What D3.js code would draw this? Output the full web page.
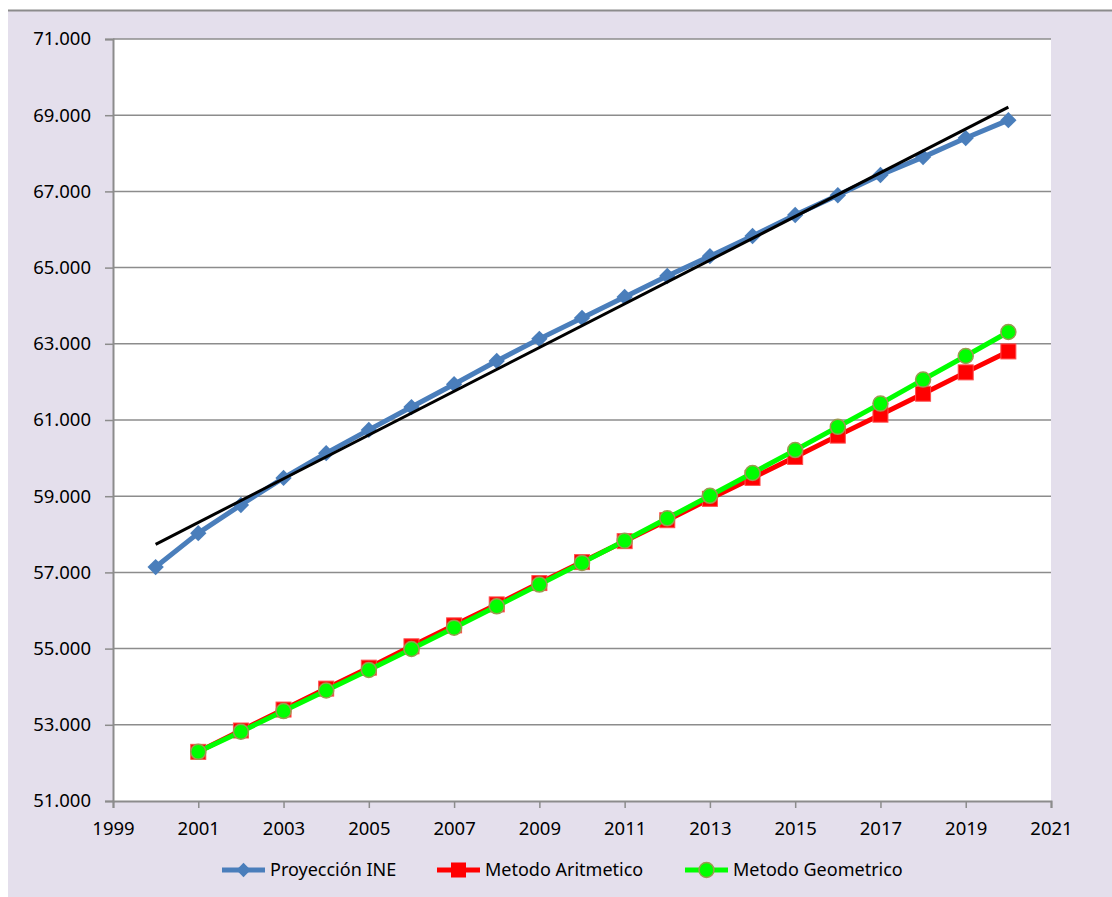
<!DOCTYPE html>
<html>
<head>
<meta charset="utf-8">
<script src="https://cdn.jsdelivr.net/npm/d3@7"></script>
<style>
  body { margin: 0; background: #fff; }
  svg text { font-family: "Noto Sans", "Open Sans", sans-serif; fill: #000; }
</style>
</head>
<body>
<div class="chart"></div>
<script>
// values (thousands)
var years = [2000, 2001, 2002, 2003, 2004, 2005, 2006, 2007, 2008, 2009, 2010,
             2011, 2012, 2013, 2014, 2015, 2016, 2017, 2018, 2019, 2020]
var ine = [57.14, 58.03, 58.77, 59.48, 60.13, 60.74, 61.34, 61.94, 62.55, 63.13, 63.68,
           64.23, 64.78, 65.30, 65.83, 66.38, 66.90, 67.43, 67.90, 68.40, 68.87]
var metYears = years.slice(1)
var aritmetico = [52.29, 52.85, 53.40, 53.95, 54.50, 55.06, 55.61, 56.16, 56.72, 57.27,
                  57.82, 58.37, 58.93, 59.48, 60.03, 60.59, 61.14, 61.69, 62.25, 62.80]
var geometrico = [52.29, 52.82, 53.36, 53.90, 54.44, 54.99, 55.55, 56.11, 56.68, 57.25,
                  57.83, 58.42, 59.01, 59.61, 60.21, 60.82, 61.43, 62.06, 62.68, 63.31]
var yTicks = [51, 53, 55, 57, 59, 61, 63, 65, 67, 69, 71]
var xTicks = [1999, 2001, 2003, 2005, 2007, 2009, 2011, 2013, 2015, 2017, 2019, 2021]
var seriesNames = ["Proyección INE", "Metodo Aritmetico", "Metodo Geometrico"]

var W = 1112, H = 897
var m = { left: 113, top: 39, right: 1051, bottom: 801 }

var svg = d3.select(".chart").append("svg")
    .attr("width", W).attr("height", H)

svg.append("rect").attr("x", 8).attr("y", 10).attr("width", W).attr("height", H)
    .attr("fill", "#e4dfec")
svg.append("line").attr("x1", 8).attr("x2", W).attr("y1", 10.5).attr("y2", 10.5)
    .attr("stroke", "#8c8c8c").attr("stroke-width", 2)

var x = d3.scaleLinear().domain([1999, 2021]).range([m.left, m.right])
var y = d3.scaleLinear().domain([51, 71]).range([m.bottom, m.top])

svg.append("rect").attr("x", m.left).attr("y", m.top)
    .attr("width", m.right - m.left).attr("height", m.bottom - m.top)
    .attr("fill", "#fff")

// gridlines
svg.append("g").selectAll("line").data(yTicks.slice(1)).join("line")
    .attr("x1", m.left).attr("x2", m.right)
    .attr("y1", function(d) { return y(d) }).attr("y2", function(d) { return y(d) })
    .attr("stroke", "#8c8c8c").attr("stroke-width", 1.5)

var yAxis = svg.append("g").attr("transform", "translate(" + m.left + ",0)")
    .call(d3.axisLeft(y).tickValues(yTicks).tickSize(8).tickPadding(14)
        .tickFormat(function(d) { return d3.format(".3f")(d) }))
var xAxis = svg.append("g").attr("transform", "translate(0," + m.bottom + ")")
    .call(d3.axisBottom(x).tickValues(xTicks).tickSize(7).tickPadding(14)
        .tickFormat(d3.format("d")))

;[yAxis, xAxis].forEach(function(a) {
    a.select(".domain").attr("stroke", "#8c8c8c").attr("stroke-width", 2)
    a.selectAll(".tick line").attr("stroke", "#8c8c8c").attr("stroke-width", 1.5)
    a.selectAll(".tick text").attr("font-size", 18.5)
        .style("font-family", "'Noto Sans', sans-serif").attr("fill", "#000")
})

// linear trendline of the INE series
var n = years.length
var mx = d3.mean(years), my = d3.mean(ine)
var b = d3.sum(years, function(d, i) { return (d - mx) * (ine[i] - my) }) /
        d3.sum(years, function(d) { return (d - mx) * (d - mx) })
var a0 = my - b * mx

var line = d3.line().x(function(d) { return x(d[0]) }).y(function(d) { return y(d[1]) })

function zip(xs, vs) { return xs.map(function(d, i) { return [d, vs[i]] }) }

svg.append("path")
    .attr("d", line(zip(years, ine)))
    .attr("fill", "none").attr("stroke", "#4a7ebb").attr("stroke-width", 5)
    .attr("stroke-linejoin", "round")

svg.append("g").selectAll("path").data(zip(years, ine)).join("path")
    .attr("transform", function(d) { return "translate(" + x(d[0]) + "," + y(d[1]) + ")" })
    .attr("d", d3.symbol(d3.symbolDiamond2, 170))
    .attr("fill", "#4a7ebb")

svg.append("path")
    .attr("d", line([[years[0], a0 + b * years[0]], [years[n - 1], a0 + b * years[n - 1]]]))
    .attr("stroke", "#000").attr("stroke-width", 3)

svg.append("path")
    .attr("d", line(zip(metYears, aritmetico)))
    .attr("fill", "none").attr("stroke", "#ff0000").attr("stroke-width", 5)
svg.append("g").selectAll("rect").data(zip(metYears, aritmetico)).join("rect")
    .attr("x", function(d) { return x(d[0]) - 7.5 }).attr("y", function(d) { return y(d[1]) - 7.5 })
    .attr("width", 15).attr("height", 15)
    .attr("fill", "#ff0000").attr("stroke", "#ff4d4d").attr("stroke-width", 1)

svg.append("path")
    .attr("d", line(zip(metYears, geometrico)))
    .attr("fill", "none").attr("stroke", "#00ff00").attr("stroke-width", 5)
svg.append("g").selectAll("circle").data(zip(metYears, geometrico)).join("circle")
    .attr("cx", function(d) { return x(d[0]) }).attr("cy", function(d) { return y(d[1]) })
    .attr("r", 7.5)
    .attr("fill", "#00ff00").attr("stroke", "#9a9a50").attr("stroke-width", 1.5)

// legend
var legX = [222, 437, 685]
var legY = 870
var leg = svg.append("g").selectAll("g").data(seriesNames).join("g")
    .attr("transform", function(d, i) { return "translate(" + legX[i] + "," + legY + ")" })
var legColors = ["#4a7ebb", "#ff0000", "#00ff00"]
leg.append("line").attr("x1", 0).attr("x2", 43)
    .attr("stroke", function(d, i) { return legColors[i] }).attr("stroke-width", 5)
leg.filter(function(d, i) { return i == 0 }).append("path")
    .attr("transform", "translate(21.5,0)")
    .attr("d", d3.symbol(d3.symbolDiamond2, 130)).attr("fill", "#4a7ebb")
leg.filter(function(d, i) { return i == 1 }).append("rect")
    .attr("x", 14).attr("y", -7.5).attr("width", 15).attr("height", 15).attr("fill", "#ff0000")
leg.filter(function(d, i) { return i == 2 }).append("circle")
    .attr("cx", 21.5).attr("r", 7.5).attr("fill", "#00ff00")
    .attr("stroke", "#9a9a50").attr("stroke-width", 1.5)
leg.append("text").attr("x", 48).attr("dy", "0.35em").attr("font-size", 18)
    .text(function(d) { return d })
</script>
</body>
</html>
